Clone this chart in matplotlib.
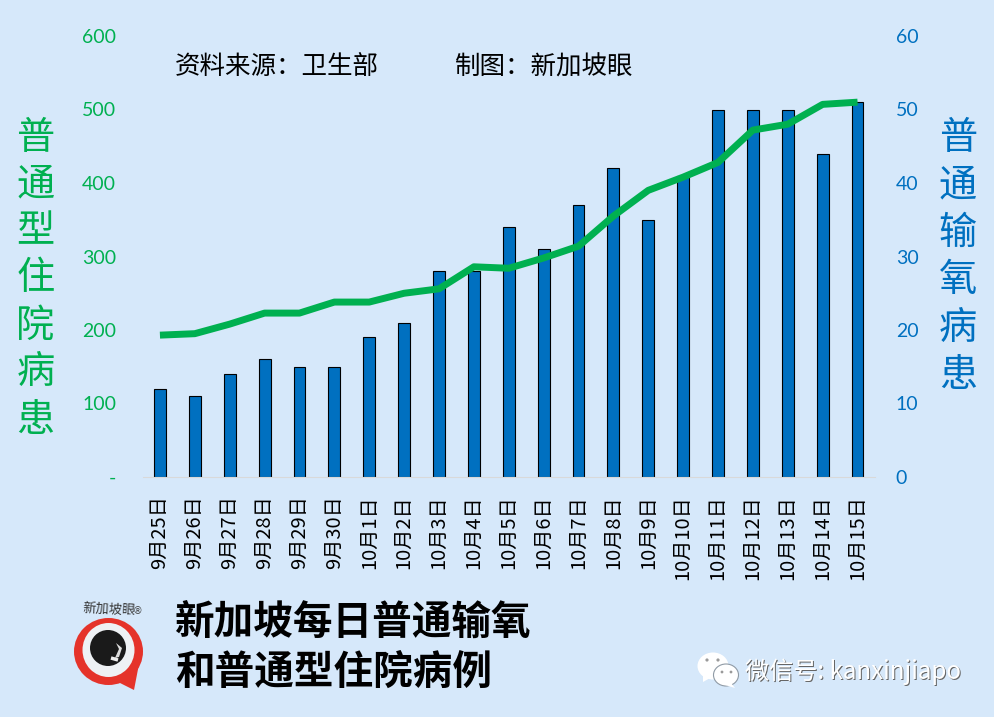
import matplotlib
matplotlib.use("Agg")
import matplotlib.pyplot as plt
from matplotlib.patches import Circle, Polygon, Ellipse

CJK = ['Noto Sans CJK SC', 'DejaVu Sans']
plt.rcParams['font.family'] = CJK

categories = ["9月25日", "9月26日", "9月27日", "9月28日", "9月29日", "9月30日",
              "10月1日", "10月2日", "10月3日", "10月4日", "10月5日", "10月6日",
              "10月7日", "10月8日", "10月9日", "10月10日", "10月11日", "10月12日",
              "10月13日", "10月14日", "10月15日"]
oxygen_patients = [12, 11, 14, 16, 15, 15, 19, 21, 28, 28, 34, 31, 37, 42, 35, 41, 50, 50, 50, 44, 51]
general_ward = [193, 195, 208, 223, 223, 238, 238, 250, 256, 286, 284, 298, 314, 355, 390, 408, 428, 472, 480, 507, 510]
left_ticks = [0, 100, 200, 300, 400, 500, 600]
left_labels = ["-", "100", "200", "300", "400", "500", "600"]
right_ticks = [0, 10, 20, 30, 40, 50, 60]

W, H = 995, 717
BG = "#d6e8fa"
GREEN = "#00b050"
BLUE = "#0070c0"

fig = plt.figure(figsize=(W / 100, H / 100), dpi=100, facecolor=BG)
L, R, T, B = 142.5, 875, 36, 477
rect = [L / W, 1 - B / H, (R - L) / W, (B - T) / H]

axr = fig.add_axes(rect, facecolor="none")
axl = axr.twinx()
axl.set_zorder(axr.get_zorder() + 1)
axl.patch.set_visible(False)
x = list(range(len(categories)))
axr.bar(x, oxygen_patients, width=0.34, color=BLUE, edgecolor="black", linewidth=0.8)
axl.plot(x, general_ward, color=GREEN, lw=5, solid_capstyle="butt", solid_joinstyle="round")

axr.set_xlim(-0.5, len(categories) - 0.5)
axr.set_ylim(0, 60)
axl.set_ylim(0, 600)
axr.yaxis.tick_right()
axl.yaxis.tick_left()
axr.set_yticks(right_ticks)
axr.set_yticklabels([str(v) for v in right_ticks], fontfamily="Lato", fontsize=14, color=BLUE)
axl.set_yticks(left_ticks)
axl.set_yticklabels(left_labels, fontfamily="Lato", fontsize=14, color=GREEN)
axr.tick_params(axis="y", length=0, pad=15)
axl.tick_params(axis="y", length=0, pad=19)
axr.set_xticks(x)
axr.set_xticklabels(categories, rotation=90, fontsize=14.5, color="black")
axr.tick_params(axis="x", length=0, pad=13)
for ax in (axr, axl):
    for s in ax.spines.values():
        s.set_visible(False)
axr.spines["bottom"].set_visible(True)
axr.spines["bottom"].set_color("#d9d9d9")

ov = fig.add_axes([0, 0, 1, 1], facecolor="none")
ov.set_xlim(0, W)
ov.set_ylim(H, 0)
ov.axis("off")

ov.text(175, 67.5, "资料来源：卫生部", fontsize=18.4, va="center", ha="left")
ov.text(455, 67.5, "制图：新加坡眼", fontsize=18.4, va="center", ha="left")

left_title = "普通型住院病患"
right_title = "普通输氧病患"
for i, ch in enumerate(left_title):
    ov.text(35.5, 138 + i * 47, ch, fontsize=27.5, color=GREEN, ha="center", va="center")
for i, ch in enumerate(right_title):
    ov.text(958, 138 + i * 47.5, ch, fontsize=27.5, color=BLUE, ha="center", va="center")

ov.text(175, 622, "新加坡每日普通输氧", fontsize=28.5, fontweight="bold", va="center", ha="left", color="black")
ov.text(175, 672, "和普通型住院病例", fontsize=28.5, fontweight="bold", va="center", ha="left", color="black")

# logo
RED = "#e5332a"
ov.add_patch(Polygon([[112, 679], [139, 664], [134, 690]], closed=True, color=RED, lw=0))
ov.add_patch(Ellipse((108.5, 651.5), 69, 67, color=RED, lw=0))
ov.add_patch(Ellipse((108.5, 650), 52, 54, color="#eef1f4", lw=0))
ov.add_patch(Ellipse((108, 648), 36, 36, color="#1a1a1a", lw=0))
ov.add_patch(Polygon([[116, 643], [122, 648], [119, 657], [115, 658], [119, 649]], closed=True,
                     facecolor="#dddddd", lw=0))
ov.plot([111, 118], [658, 660], color="#eeeeee", lw=2.5, solid_capstyle="butt")
ov.text(109, 610, "新加坡眼", fontsize=9.5, color="#333333", rotation=-3, ha="center", va="center")
ov.text(138, 611, "®", fontsize=7, color="#444444", ha="center", va="center", family="DejaVu Sans")

# WeChat mark
ov.add_patch(Ellipse((713, 666), 31, 27, color="white", lw=0))
ov.add_patch(Polygon([[703, 674], [703, 682], [712, 677]], closed=True, color="white", lw=0))
ov.add_patch(Ellipse((726, 675), 25, 22, color="white", ec="#8f9aa5", lw=0.8))
ov.add_patch(Polygon([[731, 683], [735, 688], [725, 685]], closed=True, color="white", lw=0))
for cx, cy in [(707, 660), (718, 660)]:
    ov.add_patch(Circle((cx, cy), 1.6, color="#9a9a9a", lw=0))
for cx, cy in [(722, 672), (731, 672)]:
    ov.add_patch(Circle((cx, cy), 1.4, color="#9a9a9a", lw=0))
mark = "微信号: kanxinjiapo"
ov.text(746, 672.7, mark, fontsize=17.4, color="#666666", va="center", ha="left")
ov.text(745, 671.7, mark, fontsize=17.4, color="white", va="center", ha="left")

fig.savefig("out.png", dpi=100, facecolor=BG)
